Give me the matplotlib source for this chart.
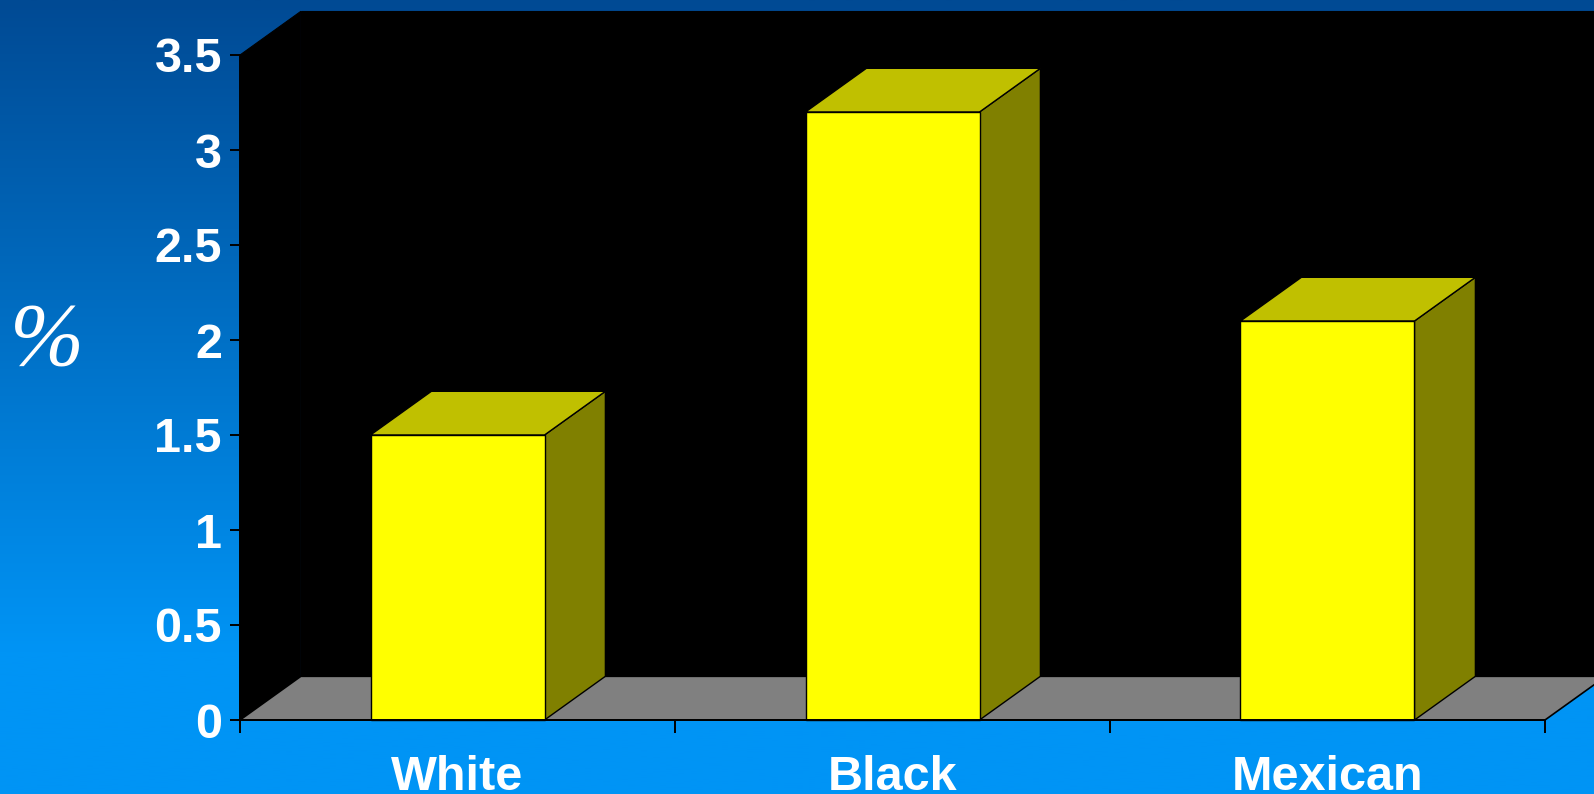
import numpy as np
import matplotlib.pyplot as plt
from matplotlib.patches import Polygon, Rectangle

# bar values (%) per group
categories = ['White', 'Black', 'Mexican']
values = [1.5, 3.2, 2.1]
ytick_values = [0, 0.5, 1, 1.5, 2, 2.5, 3, 3.5]
ytick_labels = ['0', '0.5', '1', '1.5', '2', '2.5', '3', '3.5']

# fake 3d depth, in data units
DX, DY = 0.14, 0.23
BAR_W = 0.4
YMAX = 3.5

W, H = 1594, 794
fig = plt.figure(figsize=(W / 100, H / 100), dpi=100)

# blue slide background, dark at the top
bg = fig.add_axes([0, 0, 1, 1])
rows = np.linspace(0, 1, 400)
t = np.clip(rows / 0.82, 0, 1)[:, None]
top = np.array([0, 74, 148]) / 255
bot = np.array([0, 148, 245]) / 255
grad = top[None, :] * (1 - t) + bot[None, :] * t
bg.imshow(grad[:, None, :], aspect='auto', extent=[0, 1, 1, 0])
bg.set_axis_off()

left, right = 240 / W, 1545 / W
bottom, topf = (H - 720) / H, (H - 55) / H
ax = fig.add_axes([left, bottom, right - left, topf - bottom])
ax.set_facecolor('none')
n = len(categories)
ax.set_xlim(0, n)
ax.set_ylim(0, YMAX)

# walls and floor
ax.add_patch(Polygon([(0, 0), (DX, DY), (DX, YMAX + DY), (0, YMAX)],
                     closed=True, fc='black', ec='black', lw=0.8,
                     clip_on=False, zorder=1))
ax.add_patch(Rectangle((DX, DY), n + 1, YMAX, fc='black', ec='black', lw=0.8,
                       clip_on=False, zorder=1))
ax.add_patch(Polygon([(0, 0), (n, 0), (n + DX, DY), (DX, DY)], closed=True,
                     fc='#808080', ec='black', lw=1.2, clip_on=False, zorder=2))

# bars: front, top and side faces
for i, v in enumerate(values):
    x0 = i + 0.5 - BAR_W / 2
    x1 = x0 + BAR_W
    ax.add_patch(Polygon([(x1, 0), (x1 + DX, DY), (x1 + DX, v + DY), (x1, v)],
                         closed=True, fc='#808000', ec='black', lw=1.0,
                         clip_on=False, zorder=3))
    ax.add_patch(Polygon([(x0, v), (x1, v), (x1 + DX, v + DY), (x0 + DX, v + DY)],
                         closed=True, fc='#C0C000', ec='black', lw=1.0,
                         clip_on=False, zorder=3))
    ax.add_patch(Rectangle((x0, 0), BAR_W, v, fc='#FFFF00', ec='black', lw=1.0,
                           clip_on=False, zorder=4))

for s in ['top', 'right']:
    ax.spines[s].set_visible(False)
ax.spines['left'].set_color('black')
ax.spines['bottom'].set_color('black')
ax.spines['left'].set_linewidth(1.4)
ax.spines['bottom'].set_linewidth(1.4)
ax.spines['bottom'].set_zorder(5)

tick_font = dict(family='Liberation Sans', weight='bold', size=35, color='white')
ax.set_yticks(ytick_values)
ax.set_yticklabels(ytick_labels, **tick_font)
ax.tick_params(axis='y', length=7, width=1.4, color='black', pad=6)

ax.set_xticks(range(n + 1))
ax.set_xticklabels([])
ax.tick_params(axis='x', which='major', length=9.5, width=1.4, color='black')
ax.set_xticks([i + 0.5 for i in range(n)], minor=True)
ax.set_xticklabels(categories, minor=True, **tick_font)
ax.tick_params(axis='x', which='minor', length=0, pad=25)

fig.text(47 / W, 1 - 342 / H, '%', family='Liberation Serif', style='italic',
         size=64, color='white', ha='center', va='center')

fig.savefig('out.png', dpi=100)
